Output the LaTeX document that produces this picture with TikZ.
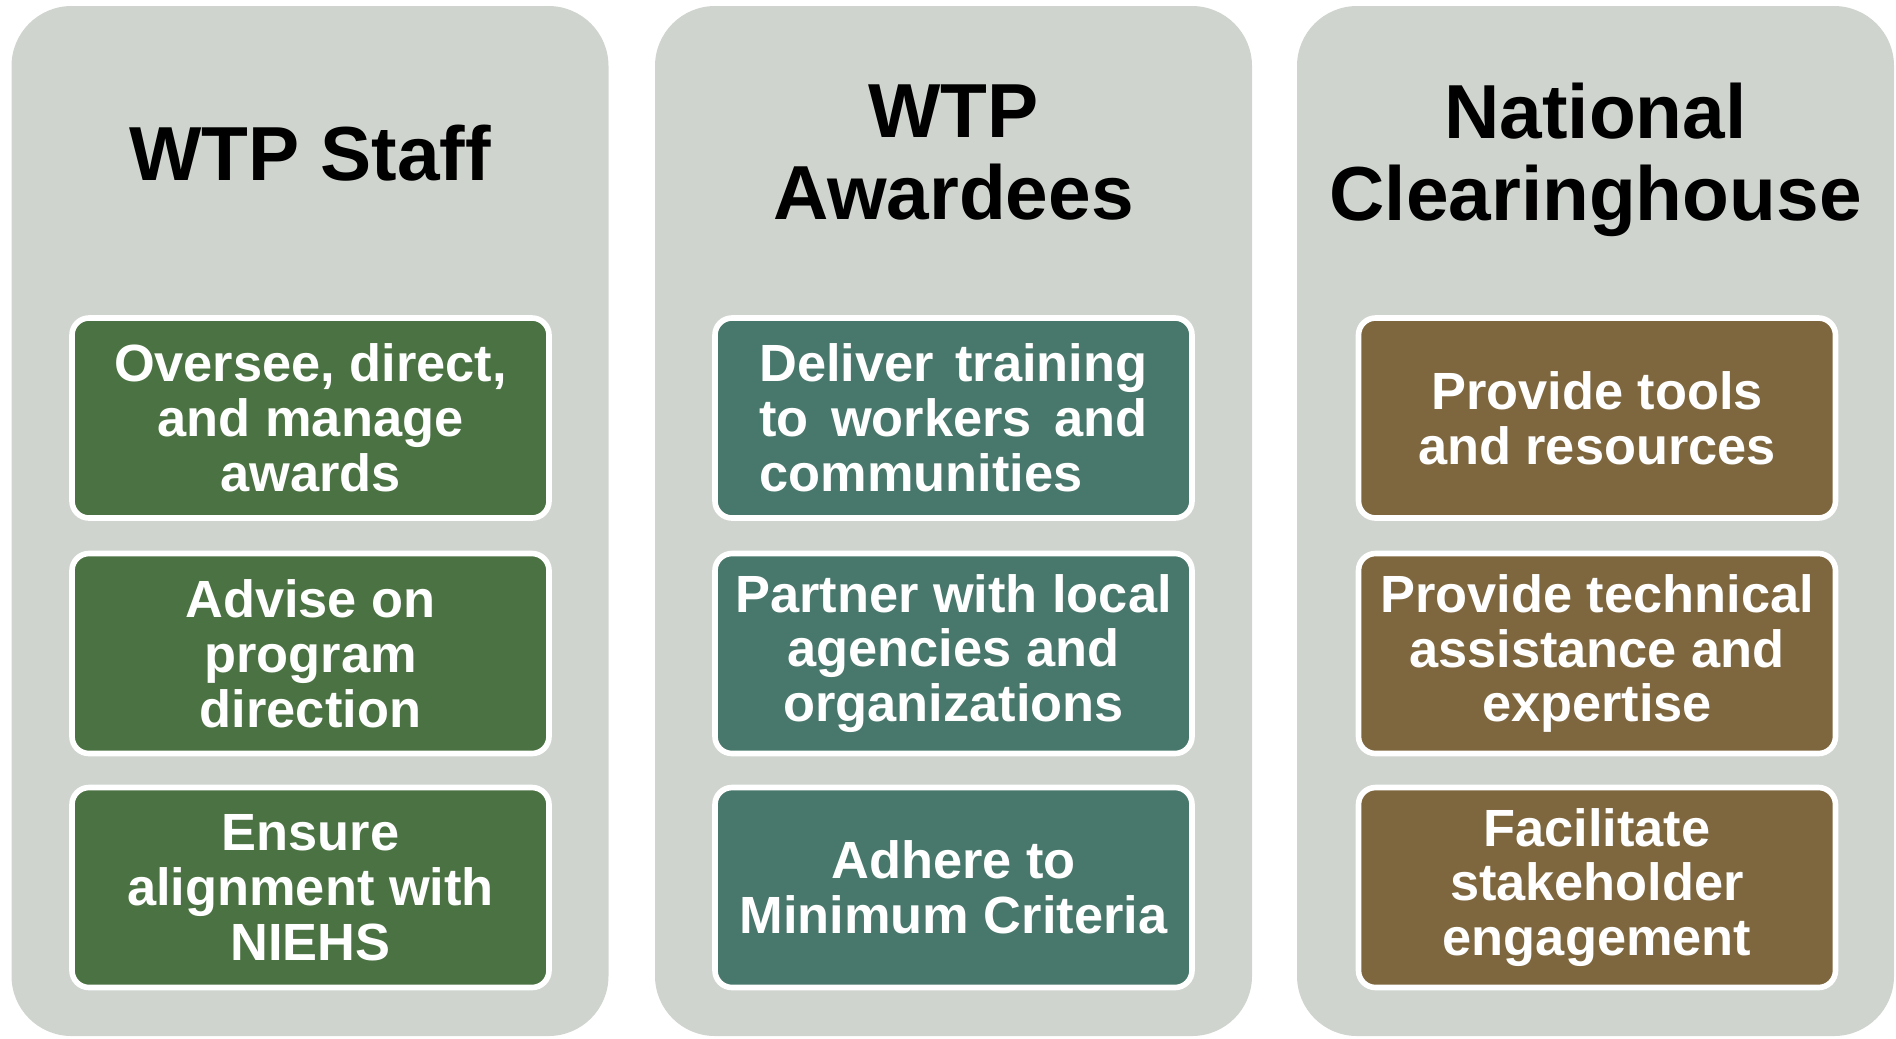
\documentclass[tikz,border=0pt]{standalone}
\usepackage{fontspec}
\setmainfont{Liberation Sans}
\usepackage{tikz}
\usetikzlibrary{positioning}
\definecolor{mgray}{RGB}{207, 212, 206}
\definecolor{mgreen}{RGB}{75, 114, 66}
\definecolor{mteal}{RGB}{72, 119, 107}
\definecolor{mbrown}{RGB}{126, 103, 62}
\tikzset{panel/.style = {rectangle, rounded corners=0.6cm, fill=mgray,
                         minimum width=5.97cm, minimum height=10.3cm},
         title/.style = {align=center, inner sep=0pt, text depth=0pt,
                         font=\fontsize{21.8}{23.4}\selectfont\bfseries},
         task/.style = {rectangle, rounded corners=0.17cm, draw=white,
                        line width=1.6pt, text=white, align=center,
                        minimum width=4.77cm, minimum height=2.0cm, inner sep=0pt,
                        font=\fontsize{14.9}{15.6}\selectfont\bfseries}}

\begin{document}
\begin{tikzpicture}
    \useasboundingbox (0, 0) rectangle (18.96, -10.38);

    \node [panel] (staff) at (3.10, -5.21) {};
    \node [panel] (awardees) at (9.535, -5.21) {};
    \node [panel] (clearing) at (15.955, -5.21) {};

    \node [title] (stafftitle) at (3.10, -1.53) {WTP Staff};
    \node [title] (awardtitle) at (9.535, -1.52) {WTP\\Awardees};
    \node [title] (cleartitle) at (15.955, -1.52) {National\\Clearinghouse};

    \node [task, fill=mgreen] (oversee) at (3.105, -4.18) {Oversee, direct,\\and manage\\awards};
    \node [task, fill=mgreen] (advise) at (3.105, -6.535) {Advise on\\program\\direction};
    \node [task, fill=mgreen] (ensure) at (3.105, -8.875) {Ensure\\alignment with\\NIEHS};

    \node [task, fill=mteal, text width=3.88cm, align=justify] (deliver) at (9.535, -4.18)
          {Deliver training\linebreak to workers and\linebreak communities};
    \node [task, fill=mteal] (partner) at (9.535, -6.535) {Partner with local\\agencies and\\organizations};
    \node [task, fill=mteal] (adhere) at (9.535, -8.875) {Adhere to\\Minimum Criteria};

    \node [task, fill=mbrown] (tools) at (15.97, -4.18) {Provide tools\\and resources};
    \node [task, fill=mbrown] (technical) at (15.97, -6.535) {Provide technical\\assistance and\\expertise};
    \node [task, fill=mbrown] (facilitate) at (15.97, -8.875) {Facilitate\\stakeholder\\engagement};
  \end{tikzpicture}
\end{document}
